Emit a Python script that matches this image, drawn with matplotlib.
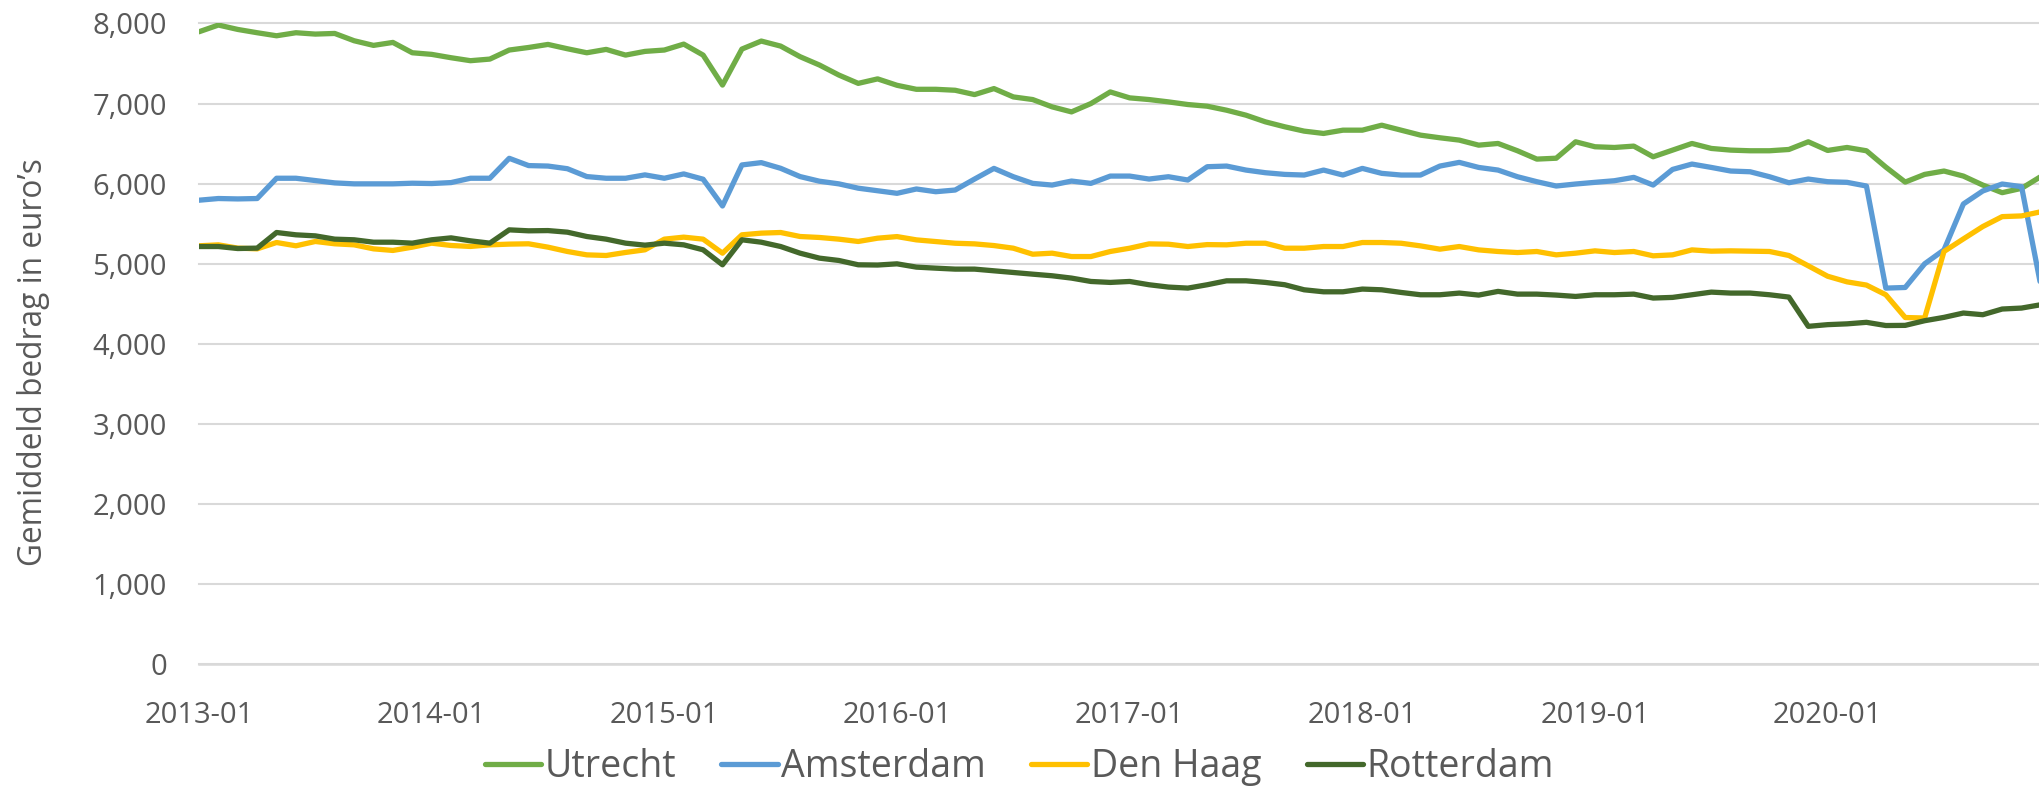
import pandas as pd
import matplotlib.pyplot as plt
from matplotlib.ticker import FuncFormatter

# Monthly average amounts (euro), Jan 2013 - Dec 2020
months = [str(p) for p in pd.period_range("2013-01", "2020-12", freq="M")]

utrecht = [
    7896, 7980, 7925, 7884, 7846, 7884, 7867, 7875, 7784, 7726, 7763, 7634,
    7614, 7572, 7535, 7555, 7668, 7700, 7738, 7684, 7634, 7676, 7605, 7651,
    7668, 7742, 7605, 7231, 7680, 7780, 7717, 7585, 7481, 7356, 7252, 7308,
    7228, 7178, 7178, 7166, 7112, 7187, 7083, 7050, 6959, 6896, 7000, 7145,
    7071, 7050, 7021, 6988, 6967, 6917, 6855, 6772, 6710, 6656, 6627, 6668,
    6668, 6730, 6668, 6606, 6573, 6544, 6481, 6502, 6411, 6307, 6318, 6523,
    6461, 6452, 6469, 6336, 6419, 6502, 6440, 6419, 6411, 6411, 6427, 6523,
    6415, 6452, 6411, 6207, 6020, 6116, 6158, 6095, 5983, 5888, 5942, 6090,
]
amsterdam = [
    5794, 5815, 5810, 5815, 6068, 6068, 6039, 6010, 5998, 5998, 5998, 6006,
    6002, 6014, 6068, 6068, 6317, 6226, 6220, 6187, 6089, 6068, 6068, 6110,
    6068, 6122, 6056, 5722, 6234, 6263, 6192, 6089, 6031, 5998, 5944, 5912,
    5880, 5934, 5900, 5921, 6058, 6191, 6087, 6004, 5983, 6033, 6004, 6095,
    6095, 6058, 6087, 6046, 6212, 6220, 6170, 6137, 6116, 6108, 6170, 6108,
    6191, 6129, 6108, 6108, 6220, 6266, 6203, 6170, 6087, 6025, 5971, 5996,
    6017, 6037, 6079, 5983, 6178, 6245, 6203, 6158, 6149, 6087, 6012, 6058,
    6025, 6017, 5971, 4697, 4705, 5000, 5174, 5747, 5909, 5996, 5963, 4720,
]
den_haag = [
    5225, 5237, 5196, 5187, 5266, 5225, 5279, 5250, 5237, 5187, 5167, 5208,
    5258, 5229, 5217, 5237, 5246, 5250, 5208, 5154, 5112, 5104, 5142, 5175,
    5308, 5333, 5308, 5133, 5362, 5383, 5391, 5341, 5329, 5308, 5279, 5320,
    5340, 5299, 5278, 5257, 5249, 5228, 5195, 5120, 5133, 5091, 5091, 5154,
    5195, 5249, 5245, 5216, 5240, 5237, 5257, 5257, 5195, 5195, 5216, 5216,
    5266, 5266, 5257, 5224, 5183, 5216, 5174, 5154, 5141, 5154, 5112, 5133,
    5162, 5141, 5154, 5100, 5112, 5174, 5158, 5162, 5158, 5154, 5104, 4975,
    4845, 4775, 4735, 4614, 4330, 4324, 5154, 5311, 5465, 5589, 5598, 5650,
]
rotterdam = [
    5216, 5216, 5191, 5196, 5391, 5362, 5349, 5308, 5300, 5270, 5270, 5258,
    5300, 5324, 5287, 5258, 5424, 5412, 5415, 5395, 5341, 5308, 5258, 5233,
    5258, 5237, 5175, 4988, 5300, 5270, 5216, 5133, 5071, 5042, 4988, 4985,
    5000, 4959, 4946, 4934, 4934, 4913, 4892, 4871, 4851, 4822, 4780, 4768,
    4780, 4739, 4710, 4697, 4739, 4788, 4788, 4768, 4739, 4676, 4651, 4651,
    4685, 4676, 4643, 4614, 4614, 4635, 4610, 4656, 4622, 4622, 4610, 4593,
    4614, 4614, 4622, 4573, 4581, 4614, 4647, 4635, 4635, 4614, 4585, 4220,
    4241, 4251, 4270, 4230, 4232, 4290, 4332, 4386, 4365, 4436, 4448, 4490,
]

series = {
    "Utrecht": (utrecht, "#70AD47"),
    "Amsterdam": (amsterdam, "#5B9BD5"),
    "Den Haag": (den_haag, "#FFC000"),
    "Rotterdam": (rotterdam, "#43682B"),
}

TEXT_COLOR = "#595959"
GRID_COLOR = "#d9d9d9"
plt.rcParams["font.family"] = ["Open Sans", "DejaVu Sans"]

fig = plt.figure(figsize=(20.39, 7.89), dpi=100)
ax = fig.add_axes([0.0976, 0.1578, 0.9024, 0.8125])

x = list(range(len(months)))
for name, (values, color) in series.items():
    ax.plot(x, values, color=color, lw=3.8, label=name,
            solid_joinstyle="round", solid_capstyle="round")

ax.set_xlim(0, 94.9)
ax.set_ylim(0, 8000)
ax.set_yticks(range(0, 8001, 1000))
ax.yaxis.set_major_formatter(FuncFormatter(lambda v, _: f"{v:,.0f}"))

tick_pos = [i for i, m in enumerate(months) if m.endswith("-01")]
ax.set_xticks(tick_pos)
ax.set_xticklabels([months[i] for i in tick_pos])

ax.grid(axis="y", color=GRID_COLOR, lw=1.5)
ax.set_axisbelow(True)
for gl in ax.get_ygridlines():
    gl.set_clip_on(False)
for side in ["top", "right", "left"]:
    ax.spines[side].set_visible(False)
ax.spines["bottom"].set_color(GRID_COLOR)
ax.spines["bottom"].set_linewidth(1.8)

ax.tick_params(axis="x", length=0, pad=26, labelsize=21, labelcolor=TEXT_COLOR)
ax.tick_params(axis="y", length=0, pad=23, labelsize=21, labelcolor=TEXT_COLOR)

ylab = fig.text(0.0165, 0.5412, "Gemiddeld bedrag in euro’s", rotation=90,
                ha="center", va="center", fontsize=22, color=TEXT_COLOR)

# scale the axis title so it spans roughly the same height as in the original
fig.canvas.draw()
h = ylab.get_window_extent().height
ylab.set_fontsize(22 * 407 / h)

leg = fig.legend(loc="center", bbox_to_anchor=(0.5, 0.028), ncol=4, frameon=False,
                 fontsize=27, handlelength=1.5, handletextpad=0.1, columnspacing=1.2)
for t in leg.get_texts():
    t.set_color(TEXT_COLOR)

fig.savefig("out.png", dpi=100)
